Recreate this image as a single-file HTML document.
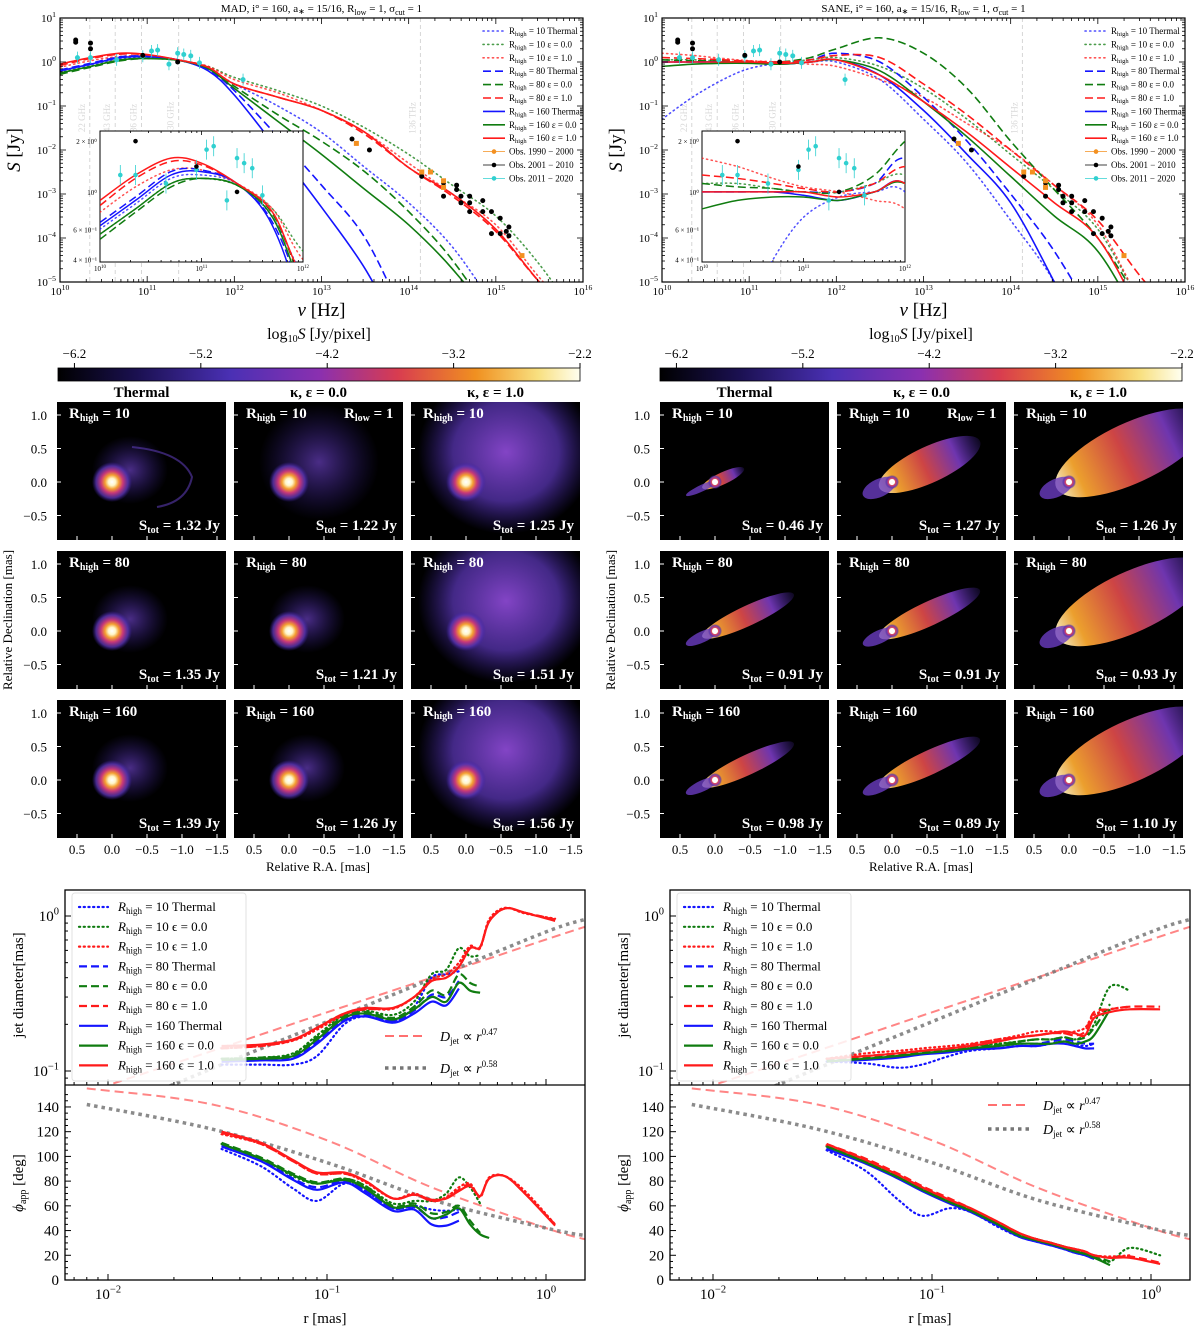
<!DOCTYPE html>
<html><head><meta charset="utf-8">
<style>
html,body{margin:0;padding:0;background:#fff;}
svg{display:block;font-family:"Liberation Serif",serif;}
</style></head>
<body>
<svg id="fig" xmlns="http://www.w3.org/2000/svg" width="1200" height="1331" viewBox="0 0 1200 1331">
<defs>
<radialGradient id="coreG"><stop offset="0" stop-color="#ffffff"/><stop offset="0.18" stop-color="#fff6c8"/><stop offset="0.35" stop-color="#f4a030"/><stop offset="0.55" stop-color="#c83878"/><stop offset="0.8" stop-color="#5a34b0" stop-opacity="0.8"/><stop offset="1" stop-color="#3a20a0" stop-opacity="0"/></radialGradient>
<radialGradient id="fanG"><stop offset="0" stop-color="#8a48d0" stop-opacity="0.95"/><stop offset="0.6" stop-color="#5a36b4" stop-opacity="0.75"/><stop offset="1" stop-color="#3a24a0" stop-opacity="0"/></radialGradient>
<radialGradient id="haloG"><stop offset="0" stop-color="#6a40c0" stop-opacity="0.7"/><stop offset="1" stop-color="#3a24a0" stop-opacity="0"/></radialGradient>
<linearGradient id="jetG" x1="0" y1="0" x2="1" y2="0"><stop offset="0" stop-color="#fff8d0"/><stop offset="0.15" stop-color="#f8a830"/><stop offset="0.45" stop-color="#d84848"/><stop offset="0.75" stop-color="#7438b8"/><stop offset="1" stop-color="#4a2aa8" stop-opacity="0.2"/></linearGradient>
<linearGradient id="cbarG" x1="0" y1="0" x2="1" y2="0"><stop offset="0" stop-color="#000000"/><stop offset="0.15" stop-color="#1a1050"/><stop offset="0.33" stop-color="#4a30b4"/><stop offset="0.5" stop-color="#8a30b0"/><stop offset="0.65" stop-color="#d83c50"/><stop offset="0.8" stop-color="#f09020"/><stop offset="0.92" stop-color="#f8e080"/><stop offset="1" stop-color="#fffff0"/></linearGradient>
</defs>
</svg>
<script>
// ================= DATA =================
const sedNu = [10,10.35,10.7,11,11.35,11.7,12,12.5,13,13.5,14,14.5,15,15.5,16];
const madBlueDot  = [-0.22,-0.07,0.08,0.1,0.05,-0.15,-0.5,-1.0,-1.6,-2.4,-3.2,-4.2,-5.6,-7,-8];
const madGreenDot = [-0.25,-0.1,0.05,0.08,0.04,-0.1,-0.35,-0.65,-1.0,-1.5,-2.1,-2.8,-3.5,-4.6,-6];
const madRedDot   = [-0.12,0.03,0.13,0.13,0.05,-0.1,-0.4,-0.7,-1.1,-1.6,-2.3,-3.0,-3.7,-4.9,-6];
const madBlueDash = [-0.18,-0.03,0.12,0.13,0.05,-0.18,-0.65,-1.7,-2.8,-4.0,-6,-8,-9,-9,-9];
const madGreenDash= [-0.28,-0.12,0.03,0.08,0.04,-0.13,-0.55,-1.2,-1.8,-2.5,-3.4,-4.5,-6,-8,-9];
const madRedDash  = [-0.08,0.08,0.18,0.16,0.05,-0.12,-0.5,-0.8,-1.1,-1.65,-2.4,-3.05,-3.85,-5.0,-6];
const madBlue     = [-0.2,-0.05,0.1,0.12,0.05,-0.2,-0.75,-2.0,-3.3,-4.7,-6.5,-8,-9,-9,-9];
const madGreen    = [-0.25,-0.1,0.05,0.08,0.04,-0.15,-0.6,-1.35,-2.1,-2.9,-3.7,-4.7,-6,-8,-9];
const madRed      = [-0.05,0.1,0.2,0.17,0.05,-0.12,-0.5,-0.8,-1.1,-1.6,-2.4,-3.0,-3.8,-5.0,-6];
const saneBlueDot  = [-1.3,-0.8,-0.4,-0.15,-0.03,0.0,0.0,-0.4,-1.3,-2.3,-3.6,-5.0,-7,-8,-9];
const saneGreenDot = [0.05,0.05,0.02,0.0,0.0,0.05,0.1,-0.1,-0.6,-1.3,-2.1,-2.9,-3.8,-5.5,-7];
const saneRedDot   = [0.2,0.15,0.08,0.03,0.0,-0.05,-0.1,-0.4,-0.8,-1.4,-2.0,-2.8,-3.7,-5.5,-7];
const saneBlueDash = [0.0,0.0,0.0,0.0,0.0,0.05,0.2,0.0,-0.8,-1.8,-3.0,-4.3,-6,-8,-9];
const saneGreenDash= [0.05,0.03,0.02,0.0,0.0,0.1,0.3,0.55,0.2,-0.6,-1.8,-2.9,-4.0,-5.5,-7];
const saneRedDash  = [0.1,0.08,0.05,0.02,0.0,0.05,0.15,0.1,-0.5,-1.2,-2.0,-2.8,-3.6,-4.9,-6];
const saneBlue     = [0.0,0.0,0.0,-0.02,-0.05,0.0,0.05,-0.3,-1.1,-2.1,-3.2,-5.0,-7,-8,-9];
const saneGreen    = [-0.1,-0.05,-0.03,-0.03,-0.05,0.0,0.05,-0.2,-0.9,-1.7,-2.6,-3.5,-4.3,-6,-8];
const saneRed      = [0.0,0.0,0.0,0.0,-0.03,0.0,0.05,-0.3,-0.9,-1.6,-2.4,-3.2,-4.0,-5.8,-8];
const obsCyanNu = [10.2,10.35,10.65,10.95,11.05,11.12,11.25,11.35,11.42,11.5,11.6,12.1];
const obsCyanS  = [0.1,0.1,0.05,0.13,0.25,0.27,-0.05,0.2,0.17,0.14,-0.02,-0.4];
const obsBlackNu = [10.18,10.18,10.35,10.35,10.95,11.35,13.35,13.55,14.15,14.4,14.4,14.55,14.55,14.6,14.6,14.7,14.7,14.7,14.85,14.85,14.95,14.95,15.05,15.05,15.15,15.15,15.12];
const obsBlackS  = [0.45,0.5,0.43,0.3,0.15,0.0,-1.75,-2.0,-2.6,-3.05,-2.75,-2.9,-2.8,-3.05,-3.2,-3.05,-3.2,-3.4,-3.15,-3.4,-3.4,-3.9,-3.55,-3.9,-3.75,-3.95,-3.85];
const obsOrangeNu = [13.4,14.15,14.25,14.4,14.4,15.3];
const obsOrangeS  = [-1.85,-2.5,-2.5,-2.7,-2.85,-4.4];
const cbarTicks = [-6.2,-5.2,-4.2,-3.2,-2.2];
const madStot  = ["1.32","1.22","1.25","1.35","1.21","1.51","1.39","1.26","1.56"];
const saneStot = ["0.46","1.27","1.26","0.91","0.91","0.93","0.98","0.89","1.10"];
const rhighVals = ["10","80","160"];
const jetR = [0.033,0.05,0.07,0.09,0.12,0.15,0.2,0.25,0.3,0.35,0.4,0.45,0.5,0.55,0.65,0.8,1.1];
const madDRed      = [.145,.148,.16,.19,.235,.255,.255,.30,.38,.40,.47,.62,.63,.92,1.12,1.05,.93];
const madDRedDash  = [.14,.145,.158,.19,.235,.25,.255,.30,.38,.40,.47,.62,.63,.92,1.12,1.05,.95];
const madDRedDot   = [.14,.145,.157,.185,.23,.25,.252,.30,.39,.42,.50,.64,.62,.95,1.13,1.04,.96];
const madDGreen    = [.118,.12,.125,.16,.22,.235,.215,.25,.30,.28,.37,.33,.32,null,null,null,null];
const madDGreenDash= [.12,.122,.128,.165,.225,.24,.22,.26,.33,.31,.42,.37,.35,null,null,null,null];
const madDGreenDot = [.12,.122,.13,.17,.23,.245,.23,.28,.42,.45,.62,.55,.56,null,null,null,null];
const madDBlue     = [.115,.117,.12,.15,.21,.225,.205,.235,.28,.265,.34,null,null,null,null,null,null];
const madDBlueDash = [.117,.12,.122,.155,.215,.23,.21,.245,.31,.30,.38,null,null,null,null,null,null];
const madDBlueDot  = [.11,.11,.11,.125,.20,.225,.21,.26,.40,.42,.44,null,null,null,null,null,null];
const madPRed      = [120,111,97,87,87,80,66,69,65,66,72,76,68,82,84,70,44];
const madPRedDash  = [119,110,96,86,86,80,66,69,64,66,73,77,68,82,84,70,45];
const madPRedDot   = [118,110,96,86,86,79,66,70,64,67,75,78,67,83,84,72,45];
const madPGreen    = [110,98,85,78,81,74,59,60,50,53,58,45,37,34,null,null,null];
const madPGreenDash= [111,99,86,79,82,76,60,62,54,55,60,48,38,null,null,null,null];
const madPGreenDot = [110,98,84,78,82,76,62,64,64,70,83,75,62,null,null,null,null];
const madPBlue     = [108,96,81,73,79,70,56,57,45,44,48,null,null,null,null,null,null];
const madPBlueDash = [109,97,82,75,80,72,58,59,50,51,55,null,null,null,null,null,null];
const madPBlueDot  = [106,92,74,64,78,72,58,60,57,56,57,null,null,null,null,null,null];
const saneDRed      = [.12,.125,.13,.135,.14,.145,.155,.165,.17,.175,.18,.175,.17,.22,.24,.25,.25];
const saneDRedDash  = [.12,.125,.13,.135,.14,.148,.16,.165,.17,.175,.175,.17,.18,.24,.25,.26,.26];
const saneDRedDot   = [.12,.13,.135,.14,.145,.15,.16,.17,.18,.18,.175,.18,.19,.23,.25,.26,null];
const saneDGreen    = [.115,.12,.125,.13,.135,.14,.145,.15,.15,.15,.155,.15,.155,.17,.25,null,null];
const saneDGreenDash= [.118,.122,.128,.132,.138,.142,.148,.155,.16,.16,.165,.16,.165,.19,.27,null,null];
const saneDGreenDot = [.12,.125,.13,.135,.14,.145,.15,.155,.16,.16,.165,.16,.17,.2,.35,.33,null];
const saneDBlue     = [.115,.118,.122,.128,.132,.138,.14,.145,.145,.15,.15,.145,.14,.14,null,null,null];
const saneDBlueDash = [.117,.12,.125,.13,.135,.14,.145,.15,.15,.155,.16,.155,.15,.15,null,null,null];
const saneDBlueDot  = [.115,.112,.105,.11,.125,.135,.14,.145,.145,.15,.155,.15,.145,.15,null,null,null];
const sanePRed      = [110,97,85,75,65,58,47,38,33,30,27,25,23,20,18,18,13];
const sanePRedDash  = [110,98,86,76,66,58,47,38,33,30,27,25,23,20,18,19,14];
const sanePRedDot   = [109,97,85,75,65,57,46,37,33,30,27,25,23,20,19,20,null];
const sanePGreen    = [108,95,83,73,63,56,45,36,32,29,26,23,21,18,12,null,null];
const sanePGreenDash= [108,96,84,74,64,57,46,37,33,30,27,24,22,19,15,null,null];
const sanePGreenDot = [108,96,84,74,64,57,46,37,33,30,27,24,22,19,15,26,20];
const sanePBlue     = [106,94,82,72,62,55,44,35,31,28,25,22,20,17,null,null,null];
const sanePBlueDash = [107,95,83,73,63,56,45,36,32,29,26,23,21,18,null,null,null];
const sanePBlueDot  = [105,88,65,52,58,55,43,35,31,28,25,22,20,17,null,null,null];
const refR = [0.008,0.03,0.1,0.3,1.0,1.5];
const refD047 = [0.073,0.135,0.239,0.40,0.705,0.85];
const refD058 = [0.048,0.104,0.208,0.393,0.79,0.95];
const refP047 = [155,142,113,75,42,33];
const refP058 = [142,122,95,65,42,36];

// ================= HELPERS =================
const NS='http://www.w3.org/2000/svg';
const svg=document.getElementById('fig');
function mk(tag,a,p){const e=document.createElementNS(NS,tag);for(const k in a)e.setAttribute(k,a[k]);(p||svg).appendChild(e);return e;}
function txt(s,x,y,a,p){const e=mk('text',Object.assign({x:x,y:y,'font-size':14},a||{}),p);e.textContent=s;return e;}
function sup(base,ex,x,y,anchor,size,p){const e=mk('text',{x:x,y:y,'text-anchor':anchor,'font-size':size},p);const t1=mk('tspan',{},e);t1.textContent=base;const t2=mk('tspan',{dy:-size*0.45,'font-size':size*0.7},e);t2.textContent=ex;return e;}
function rich(parts,x,y,attrs,p){const e=mk('text',Object.assign({x:x,y:y},attrs),p);let cur=0;parts.forEach(q=>{const off=q[1]||0;const t=mk('tspan',{dy:off-cur},e);if(q[2])t.setAttribute('font-size',q[2]);if(q[3])t.setAttribute('font-style',q[3]);t.textContent=q[0];cur=off;});return e;}
const lin=(d0,d1,r0,r1)=>v=>r0+(v-d0)/(d1-d0)*(r1-r0);
function smooth(pts){if(pts.length<2)return '';let d='M'+pts[0][0].toFixed(1)+','+pts[0][1].toFixed(1);for(let i=0;i<pts.length-1;i++){const p0=pts[i-1]||pts[i],p1=pts[i],p2=pts[i+1],p3=pts[i+2]||p2;const c1=[p1[0]+(p2[0]-p0[0])/6,p1[1]+(p2[1]-p0[1])/6],c2=[p2[0]-(p3[0]-p1[0])/6,p2[1]-(p3[1]-p1[1])/6];d+=' C'+c1.map(v=>v.toFixed(1))+' '+c2.map(v=>v.toFixed(1))+' '+p2[0].toFixed(1)+','+p2[1].toFixed(1);}return d;}
const COL={b:'#1414ff',g:'#107c10',r:'#ff1a1a'};
const STY={dot:{'stroke-dasharray':'1.2 3.5','stroke-linecap':'round',opacity:0.75},dash:{'stroke-dasharray':'8 4'},solid:{}};
let clipId=0;
function clip(x,y,w,h){const id='c'+(clipId++);const c=mk('clipPath',{id:id},svg.querySelector('defs'));mk('rect',{x:x,y:y,width:w,height:h},c);return 'url(#'+id+')';}
function logTicks(g,xs,ys,x0,x1,y0,y1,dmin,dmax,axis,majorLen,minorLen,minorOn){
  for(let d=Math.floor(dmin);d<=Math.ceil(dmax);d++){for(let k=1;k<10;k++){const v=d+Math.log10(k);if(v<dmin-1e-9||v>dmax+1e-9)continue;if(k>1&&!minorOn)continue;const L=k==1?majorLen:minorLen;
    if(axis=='x'){const X=xs(v);mk('line',{x1:X,x2:X,y1:y1,y2:y1-L,stroke:'#000','stroke-width':0.8},g);mk('line',{x1:X,x2:X,y1:y0,y2:y0+L,stroke:'#000','stroke-width':0.8},g);}
    else{const Y=ys(v);mk('line',{x1:x0,x2:x0+L,y1:Y,y2:Y,stroke:'#000','stroke-width':0.8},g);mk('line',{x1:x1,x2:x1-L,y1:Y,y2:Y,stroke:'#000','stroke-width':0.8},g);}}}
}

// ================= SED PANELS =================
function drawSED(ox,kind,series,name){
  const g=mk('g',{});
  
  
  const x0=ox,x1=ox+523,y0=18,y1=282;
  const xs=lin(10,16,x0,x1), ys=lin(1,-5,y0,y1);
  const tt=rich([[kind+',  i\u00b0 = 160,  a',0],['\u2217',2,8],[' = 15/16,  R',0],['low',3,8],[' = 1,  \u03c3',0],['cut',3,8],[' = 1',0]],(x0+x1)/2,12,{'text-anchor':'middle','font-size':11},g);
  
  const vl=[[10.342,'22 GHz'],[10.633,'43 GHz'],[10.934,'86 GHz'],[11.362,'230 GHz'],[14.134,'136 THz']];
  vl.forEach(v=>{const X=xs(v[0]);mk('line',{x1:X,x2:X,y1:y0,y2:y1,stroke:'#ccc','stroke-dasharray':'4 3','stroke-width':0.8},g);
    txt(v[1],X-5,118,{'font-size':9,fill:'#d8d8d8',transform:'rotate(-90 '+(X-5)+' 118)','text-anchor':'middle'},g);});
  const cp=clip(x0,y0,x1-x0,y1-y0);
  const lg=mk('g',{'clip-path':cp},g);
  series.forEach(s=>{const pts=sedNu.map((n,i)=>[xs(n),ys(s.v[i])]);const p=mk('path',Object.assign({d:smooth(pts),fill:'none',stroke:COL[s.c],'stroke-width':1.6},STY[s.s]),lg);
    
    });
  function pts(nus,ss,color,nm,sq,err){nus.forEach((n,i)=>{const X=xs(n),Y=ys(ss[i]);if(err)mk('line',{x1:X,x2:X,y1:Y-6,y2:Y+6,stroke:color,'stroke-width':0.8},lg);
    const m=sq?mk('rect',{x:X-2.5,y:Y-2.5,width:5,height:5,fill:color},lg):mk('circle',{cx:X,cy:Y,r:2.5,fill:color},lg);
    
    });}
  pts(obsCyanNu,obsCyanS,'#30d0d0','obs-2011-2020',false,true);
  pts(obsBlackNu,obsBlackS,'#000','obs-2001-2010',false,false);
  pts(obsOrangeNu,obsOrangeS,'#f39020','obs-1990-2000',true,false);
  mk('rect',{x:x0,y:y0,width:x1-x0,height:y1-y0,fill:'none',stroke:'#000','stroke-width':1.2},g);
  logTicks(g,xs,ys,x0,x1,y0,y1,10,16,'x',6,3,true);
  logTicks(g,xs,ys,x0,x1,y0,y1,-5,1,'y',6,3,true);
  for(let d=10;d<=16;d++)sup('10',String(d),xs(d),y1+13,'middle',11,g);
  for(let d=-5;d<=1;d++)sup('10',d<0?'\u2212'+(-d):String(d),x0-4,ys(d)+4,'end',11,g);
  const xl=rich([['\u03bd',0,null,'italic'],[' [Hz]',0]],(x0+x1)/2,y1+34,{'text-anchor':'middle','font-size':19},g);
  
  const yl=rich([['S',0,null,'italic'],[' [Jy]',0]],0,0,{'font-size':19,'text-anchor':'middle',transform:'translate('+(x0-40)+' 150) rotate(-90)'},g);
  
  const lab=['10 Thermal','10 \u03b5 = 0.0','10 \u03b5 = 1.0','80 Thermal','80 \u03b5 = 0.0','80 \u03b5 = 1.0','160 Thermal','160 \u03b5 = 0.0','160 \u03b5 = 1.0'];
  const lc=['b','g','r','b','g','r','b','g','r'],ls=['dot','dot','dot','dash','dash','dash','solid','solid','solid'];
  const LX=x1-100;
  lab.forEach((l,i)=>{const Y=34+13.4*i;const ln=mk('line',Object.assign({x1:LX,x2:LX+22,y1:Y-3,y2:Y-3,stroke:COL[lc[i]],'stroke-width':1.6},STY[ls[i]]),g);
    
    
    const t=rich([['R',0],['high',2,6.5],[' = '+l,0]],LX+26,Y,{'font-size':9},g);
    
    });
  const oc=['#f39020','#000','#30d0d0'],ol=['Obs. 1990 \u2212 2000','Obs. 2001 \u2212 2010','Obs. 2011 \u2212 2020'];
  ol.forEach((l,i)=>{const Y=34+13.4*(9+i);mk('line',{x1:LX,x2:LX+22,y1:Y-3,y2:Y-3,stroke:oc[i],'stroke-width':0.8},g);mk('circle',{cx:LX+11,cy:Y-3,r:2.3,fill:oc[i]},g);
    const t=txt(l,LX+26,Y,{'font-size':9},g);
    });
  const ix0=ox+40,ix1=ox+243,iy0=131,iy1=262;
  const ixs=lin(10,12,ix0,ix1), iys=lin(0.36,-0.414,iy0,iy1);
  const ig=mk('g',{},g);
  
  
  mk('rect',{x:ix0,y:iy0,width:ix1-ix0,height:iy1-iy0,fill:'#fff',stroke:'#000','stroke-width':1},ig);
  const icp=clip(ix0,iy0,ix1-ix0,iy1-iy0);const ilg=mk('g',{'clip-path':icp},ig);
  series.forEach(s=>{const p=[];sedNu.forEach((n,i)=>{if(n<=12.5)p.push([ixs(n),iys(s.v[i])]);});const e=mk('path',Object.assign({d:smooth(p),fill:'none',stroke:COL[s.c],'stroke-width':1.5},STY[s.s]),ilg);
    
    });
  obsCyanNu.forEach((n,i)=>{mk('line',{x1:ixs(n),x2:ixs(n),y1:iys(obsCyanS[i])-10,y2:iys(obsCyanS[i])+10,stroke:'#30d0d0','stroke-width':0.8},ilg);mk('circle',{cx:ixs(n),cy:iys(obsCyanS[i]),r:2.3,fill:'#30d0d0'},ilg);});
  obsBlackNu.forEach((n,i)=>{if(n<12)mk('circle',{cx:ixs(n),cy:iys(obsBlackS[i]),r:2.3,fill:'#000'},ilg);});
  logTicks(ig,ixs,iys,ix0,ix1,iy0,iy1,10,12,'x',4,2,true);
  [[10,'10'],[11,'11'],[12,'12']].forEach(d=>sup('10',d[1],ixs(d[0]),iy1+9,'middle',7,ig));
  txt('2 \u00d7 10\u2070',ix0-3,iys(0.301)+3,{'font-size':7,'text-anchor':'end'},ig);
  txt('10\u2070',ix0-3,iys(0)+3,{'font-size':7,'text-anchor':'end'},ig);
  txt('6 \u00d7 10\u207b\u00b9',ix0-3,iys(-0.222)+3,{'font-size':7,'text-anchor':'end'},ig);
  txt('4 \u00d7 10\u207b\u00b9',ix0-3,iys(-0.398)+3,{'font-size':7,'text-anchor':'end'},ig);
}
function mkSeries(a){const n=['r10-thermal','r10-eps0','r10-eps1','r80-thermal','r80-eps0','r80-eps1','r160-thermal','r160-eps0','r160-eps1'];const c=['b','g','r','b','g','r','b','g','r'];const s=['dot','dot','dot','dash','dash','dash','solid','solid','solid'];return a.map((v,i)=>({v:v,c:c[i],s:s[i],n:n[i]}));}
drawSED(60,'MAD',mkSeries([madBlueDot,madGreenDot,madRedDot,madBlueDash,madGreenDash,madRedDash,madBlue,madGreen,madRed]),'sed-mad');
drawSED(662,'SANE',mkSeries([saneBlueDot,saneGreenDot,saneRedDot,saneBlueDash,saneGreenDash,saneRedDash,saneBlue,saneGreen,saneRed]),'sed-sane');

// ================= COLORBARS =================
[58,660].forEach((cx,k)=>{
  const g=mk('g',{});
  
  
  const xs=lin(-6.33,-2.2,cx,cx+522);
  mk('rect',{x:cx,y:368,width:522,height:13,fill:'url(#cbarG)',stroke:'#000','stroke-width':0.8},g);
  cbarTicks.forEach(t=>{mk('line',{x1:xs(t),x2:xs(t),y1:368,y2:363,stroke:'#000'},g);txt('\u2212'+Math.abs(t).toFixed(1),xs(t),358,{'text-anchor':'middle','font-size':13},g);});
  const lb=rich([['log',0],['10',3,10],['S',0,null,'italic'],[' [Jy/pixel]',0]],cx+261,339,{'text-anchor':'middle','font-size':16},g);
  
});

// ================= IMAGE PANELS =================
function drawImages(ox,sane,stot){
  const g=mk('g',{});
  
  
  const cols=[ox,ox+177,ox+354],rows=[402,551,700],W=169,H=138;
  const ct=['Thermal','\u03ba,  \u03b5 = 0.0','\u03ba,  \u03b5 = 1.0'];
  ct.forEach((t,i)=>{const e=txt(t,cols[i]+W/2,397,{'text-anchor':'middle','font-size':15,'font-weight':'bold'},g);});
  for(let r=0;r<3;r++)for(let c=0;c<3;c++){
    const x0=cols[c],y0=rows[r];const p=mk('g',{'clip-path':clip(x0,y0,W,H)},g);
    
    
    mk('rect',{x:x0,y:y0,width:W,height:H,fill:'#000'},p);
    const cx=x0+55,cy=y0+80;
    if(!sane){
      if(c==2){mk('ellipse',{cx:cx+40,cy:cy-30,rx:88,ry:82,fill:'url(#fanG)'},p);}
      else{const big=(c==1&&r==0);mk('ellipse',{cx:cx+(big?30:18),cy:cy-(big?20:12),rx:big?60:38,ry:big?58:34,fill:'url(#haloG)'},p);
        if(r==0&&c==0)mk('path',{d:'M'+(cx+20)+','+(cy-35)+' q50,5 60,30 q-5,25 -35,30',fill:'none',stroke:'#5a3ab0','stroke-width':2,opacity:0.6},p);}
      mk('circle',{cx:cx,cy:cy,r:20,fill:'url(#coreG)'},p);
    }else{
      const len=[[30,95,150],[85,95,150],[85,95,150]][r][c],wid=[[6,18,30],[10,12,30],[10,12,30]][r][c];
      const e=mk('g',{transform:'translate('+cx+' '+cy+') rotate(-25)'},p);
      mk('ellipse',{cx:len/2-6,cy:0,rx:len/2+8,ry:wid,fill:'url(#jetG)',opacity:0.95},e);
      mk('ellipse',{cx:-14,cy:0,rx:18,ry:Math.min(wid*0.55,9),fill:'#6a3cc0',opacity:0.8},e);
      mk('circle',{cx:0,cy:0,r:7,fill:'url(#coreG)'},e);
      mk('circle',{cx:0,cy:0,r:3,fill:'#fff'},e);
    }
    const rl=rich([['R',0],['high',3,10],[' = '+rhighVals[r],0]],x0+12,y0+16,{fill:'#fff','font-size':15,'font-weight':'bold'},g);
    
    if(r==0&&c==1){const rl2=rich([['R',0],['low',3,10],[' = 1',0]],x0+110,y0+16,{fill:'#fff','font-size':15,'font-weight':'bold'},g);
      }
    const st=rich([['S',0],['tot',3,10],[' = '+stot[r*3+c]+' Jy',0]],x0+W-6,y0+128,{fill:'#fff','font-size':15,'font-weight':'bold','text-anchor':'end'},g);
    
    const decs=[1.0,0.5,0.0,-0.5],ras=[0.5,0,-0.5,-1.0,-1.5];
    decs.forEach(v=>{const Y=y0+80-v*67;mk('line',{x1:x0,x2:x0+4,y1:Y,y2:Y,stroke:'#fff'},g);if(c==0)txt(v<0?'\u2212'+Math.abs(v).toFixed(1):v.toFixed(1),x0-10,Y+5,{'text-anchor':'end','font-size':13},g);});
    ras.forEach(v=>{const X=x0+55-v*70;mk('line',{x1:X,x2:X,y1:y0+H,y2:y0+H-4,stroke:'#fff'},g);if(r==2)txt(v<0?'\u2212'+Math.abs(v).toFixed(1):v.toFixed(1),X,y0+H+16,{'text-anchor':'middle','font-size':13},g);});
  }
  const yl=txt('Relative Declination [mas]',0,0,{'font-size':13,'text-anchor':'middle',transform:'translate('+(ox-45)+' 620) rotate(-90)'},g);
  
  const xl=txt('Relative R.A. [mas]',ox+261,871,{'font-size':13,'text-anchor':'middle'},g);
  
}
drawImages(57,false,madStot);
drawImages(660,true,saneStot);

// ================= JET PROFILES =================
function drawJet(ox,D,P,name,sane){
  const g=mk('g',{});
  
  
  const x0=ox,x1=ox+520,ya=890,ym=1085,yb=1280;
  const xs=v=>lin(-2,0,ox+43,ox+481)(Math.log10(v));
  const yD=v=>916-155*Math.log10(v), yP=v=>1280-v*1.236;
  const c1=mk('g',{'clip-path':clip(x0,ya,x1-x0,ym-ya)},g), c2=mk('g',{'clip-path':clip(x0,ym,x1-x0,yb-ym)},g);
  const r1=mk('path',{d:smooth(refR.map((r,i)=>[xs(r),yD(refD047[i])])),fill:'none',stroke:'#ff7070','stroke-width':2,'stroke-dasharray':'9 5',opacity:0.85},c1);
  
  const r2=mk('path',{d:smooth(refR.map((r,i)=>[xs(r),yD(refD058[i])])),fill:'none',stroke:'#777','stroke-width':3.5,'stroke-dasharray':'3.5 4',opacity:0.85},c1);
  
  const r3=mk('path',{d:smooth(refR.map((r,i)=>[xs(r),yP(refP047[i])])),fill:'none',stroke:'#ff7070','stroke-width':2,'stroke-dasharray':'9 5',opacity:0.85},c2);
  
  const r4=mk('path',{d:smooth(refR.map((r,i)=>[xs(r),yP(refP058[i])])),fill:'none',stroke:'#777','stroke-width':3.5,'stroke-dasharray':'3.5 4',opacity:0.85},c2);
  
  const cc=['b','g','r','b','g','r','b','g','r'],ss=['dot','dot','dot','dash','dash','dash','solid','solid','solid'];
  D.forEach((arr,k)=>{const pts=[];jetR.forEach((r,i)=>{if(arr[i]!=null)pts.push([xs(r),yD(arr[i])]);});const e=mk('path',Object.assign({d:smooth(pts),fill:'none',stroke:COL[cc[k]],'stroke-width':2.2},STY[ss[k]],{opacity:1}),c1);
    
    });
  P.forEach((arr,k)=>{const pts=[];jetR.forEach((r,i)=>{if(arr[i]!=null)pts.push([xs(r),yP(arr[i])]);});const e=mk('path',Object.assign({d:smooth(pts),fill:'none',stroke:COL[cc[k]],'stroke-width':2.2},STY[ss[k]],{opacity:1}),c2);
    
    });
  mk('rect',{x:x0,y:ya,width:x1-x0,height:yb-ya,fill:'none',stroke:'#000','stroke-width':1.3},g);
  mk('line',{x1:x0,x2:x1,y1:ym,y2:ym,stroke:'#000','stroke-width':1.3},g);
  for(let d=-3;d<=0;d++)for(let k=1;k<10;k++){const v=Math.pow(10,d)*k;const X=xs(v);if(X<x0||X>x1)continue;const L=k==1?6:3;mk('line',{x1:X,x2:X,y1:yb,y2:yb-L,stroke:'#000'},g);mk('line',{x1:X,x2:X,y1:ym,y2:ym-L,stroke:'#000'},g);}
  [[-2,0.01],[-1,0.1],[0,1]].forEach(t=>sup('10',t[0]<0?'\u2212'+(-t[0]):'0',xs(t[1]),yb+19,'middle',15,g));
  const xl=txt('r [mas]',(x0+x1)/2,yb+43,{'text-anchor':'middle','font-size':15},g);
  
  [0.1,0.2,0.3,0.4,0.5,0.6,0.7,0.8,0.9,1.0].forEach(v=>{const Y=yD(v);if(Y<ya)return;const L=(v==0.1||v==1)?6:3;mk('line',{x1:x0,x2:x0+L,y1:Y,y2:Y,stroke:'#000'},g);});
  [0.09].forEach(v=>{const Y=yD(v);if(Y<ym)mk('line',{x1:x0,x2:x0+3,y1:Y,y2:Y,stroke:'#000'},g);});
  sup('10','0',x0-6,yD(1)+5,'end',15,g);sup('10','\u22121',x0-6,yD(0.1)+5,'end',15,g);
  const yl=txt('jet diameter[mas]',0,0,{'font-size':15,'text-anchor':'middle',transform:'translate('+(x0-42)+' 985) rotate(-90)'},g);
  
  for(let v=0;v<=150;v+=5){const Y=yP(v);mk('line',{x1:x0,x2:x0+(v%20==0?6:3),y1:Y,y2:Y,stroke:'#000'},g);if(v%20==0)txt(String(v),x0-6,Y+5,{'text-anchor':'end','font-size':15},g);}
  const pl=rich([['\u03d5',0,null,'italic'],['app',3,10],[' [deg]',0]],0,0,{'font-size':15,'text-anchor':'middle',transform:'translate('+(x0-42)+' 1183) rotate(-90)'},g);
  
  const lg=mk('g',{},g);
  
  
  mk('rect',{x:x0+7,y:ya+3,width:174,height:188,fill:'#fff',stroke:'#ddd',rx:3,opacity:0.85},lg);
  const lab=['10 Thermal','10 \u03f5 = 0.0','10 \u03f5 = 1.0','80 Thermal','80 \u03f5 = 0.0','80 \u03f5 = 1.0','160 Thermal','160 \u03f5 = 0.0','160 \u03f5 = 1.0'];
  lab.forEach((l,i)=>{const Y=ya+21+19.8*i;mk('line',Object.assign({x1:x0+14,x2:x0+43,y1:Y-4,y2:Y-4,stroke:COL[cc[i]],'stroke-width':2.2},STY[ss[i]],{opacity:1}),lg);
    const t=rich([['R',0,null,'italic'],['high',3,9],[' = '+l,0]],x0+53,Y,{'font-size':13},lg);
    });
  const dx=sane?x0+318:x0+320, dy1=sane?1110:1041, dy2=sane?1134:1073;
  mk('line',{x1:dx,x2:dx+42,y1:dy1-5,y2:dy1-5,stroke:'#ff7070','stroke-width':2,'stroke-dasharray':'9 5'},g);
  mk('line',{x1:dx,x2:dx+42,y1:dy2-5,y2:dy2-5,stroke:'#777','stroke-width':3.5,'stroke-dasharray':'3.5 4'},g);
  [[dy1,'0.47'],[dy2,'0.58']].forEach(q=>{const t=rich([['D',0,null,'italic'],['jet',3,9],[' \u221d ',0],['r',0,null,'italic'],[q[1],-6,9]],dx+55,q[0],{'font-size':14},g);
    });
}
drawJet(65,[madDBlueDot,madDGreenDot,madDRedDot,madDBlueDash,madDGreenDash,madDRedDash,madDBlue,madDGreen,madDRed],[madPBlueDot,madPGreenDot,madPRedDot,madPBlueDash,madPGreenDash,madPRedDash,madPBlue,madPGreen,madPRed],'jet-profile-mad',false);
drawJet(670,[saneDBlueDot,saneDGreenDot,saneDRedDot,saneDBlueDash,saneDGreenDash,saneDRedDash,saneDBlue,saneDGreen,saneDRed],[sanePBlueDot,sanePGreenDot,sanePRedDot,sanePBlueDash,sanePGreenDash,sanePRedDash,sanePBlue,sanePGreen,sanePRed],'jet-profile-sane',true);
</script>
</body></html>
